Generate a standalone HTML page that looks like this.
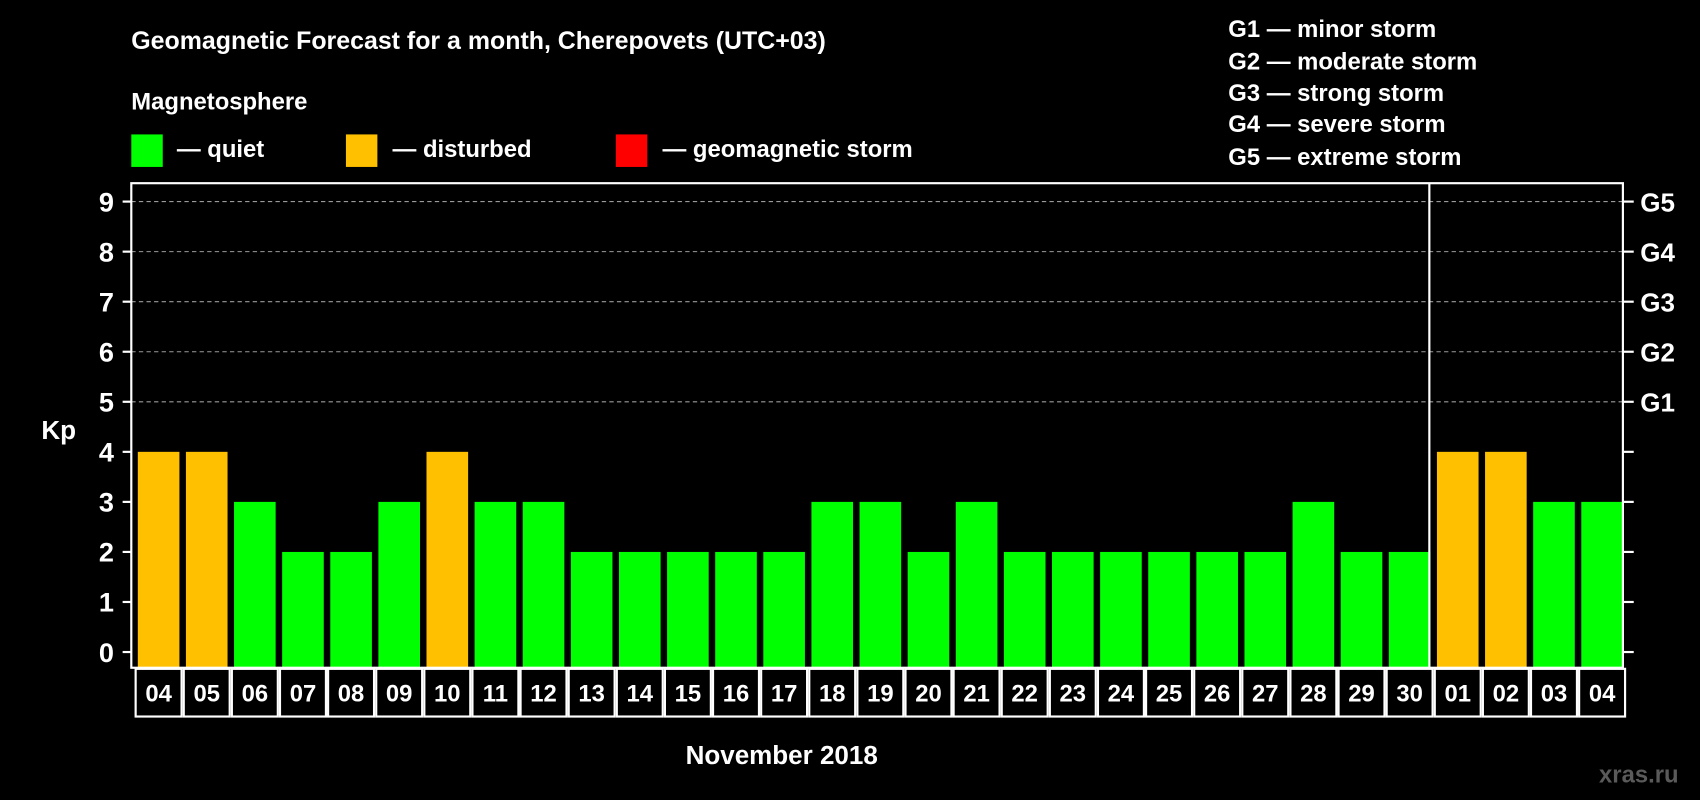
<!DOCTYPE html>
<html><head><meta charset="utf-8"><style>
html,body{margin:0;padding:0;background:#000;}
svg{display:block;}
text{font-family:"Liberation Sans",Arial,sans-serif;font-weight:bold;fill:#fff;}
</style></head><body>
<svg id="chart" width="1700" height="800" viewBox="0 0 1568 738" xmlns="http://www.w3.org/2000/svg">
<rect x="0" y="0" width="1568" height="738" fill="#000"/>
<text x="121" y="45" font-size="23">Geomagnetic Forecast for a month, Cherepovets (UTC+03)</text>
<text x="121" y="101" font-size="22">Magnetosphere</text>
<g><rect x="121" y="124" width="29" height="30" fill="#00ff00"/><text x="163" y="145" font-size="22">— quiet</text></g>
<g><rect x="319" y="124" width="29" height="30" fill="#ffc000"/><text x="362" y="145" font-size="22">— disturbed</text></g>
<g><rect x="568" y="124" width="29" height="30" fill="#ff0000"/><text x="611" y="145" font-size="22">— geomagnetic storm</text></g>
<g font-size="22">
<text x="1133" y="34">G1 — minor storm</text>
<text x="1133" y="64">G2 — moderate storm</text>
<text x="1133" y="93">G3 — strong storm</text>
<text x="1133" y="122">G4 — severe storm</text>
<text x="1133" y="152">G5 — extreme storm</text>
</g>
<text x="38" y="405" font-size="24">Kp</text>
<text x="721" y="705" font-size="24" text-anchor="middle">November 2018</text>
<text x="1475" y="722" font-size="22" style="fill:#5a5a5a">xras.ru</text>
<g id="plot"></g>
</svg>
<script>
const days = ["04","05","06","07","08","09","10","11","12","13","14","15","16","17","18","19","20","21","22","23","24","25","26","27","28","29","30","01","02","03","04"];
const kp = [4,4,3,2,2,3,4,3,3,2,2,2,2,2,3,3,2,3,2,2,2,2,2,2,3,2,2,4,4,3,3];
const yTicks = [0,1,2,3,4,5,6,7,8,9];
const gLabels = ["G1","G2","G3","G4","G5"];
const gValues = [5,6,7,8,9];
const monthBreak = 27;

const NS = "http://www.w3.org/2000/svg";
const L = 121, R = 1497, T = 169, B = 616;
const colW = (R - L) / days.length;
const y = v => 601.5 - v * 46.17;
const x = i => L + i * colW;
const plot = document.getElementById('plot');
function mk(tag, attrs) {
  const e = document.createElementNS(NS, tag);
  for (const k in attrs) e.setAttribute(k, attrs[k]);
  plot.appendChild(e);
  return e;
}
// grid
gValues.forEach(v => {
  const g = mk('line', {x1: L, x2: R, y1: y(v), y2: y(v), stroke: '#9a9a9a', 'stroke-width': 1, 'stroke-dasharray': '4,3'});
  
  
});
// bars
kp.forEach((v, i) => {
  const c = v >= 5 ? '#ff0000' : (v >= 4 ? '#ffc000' : '#00ff00');
  const b = mk('rect', {x: x(i) + 6, y: y(v), width: colW - 6, height: B - y(v), fill: c});
  
  
});
// frame
const fr = mk('rect', {x: L, y: T, width: R - L, height: B - T, fill: 'none', stroke: '#fff', 'stroke-width': 2});


const dv = mk('line', {x1: x(monthBreak) - 1, x2: x(monthBreak) - 1, y1: T, y2: B, stroke: '#fff', 'stroke-width': 2});


// y ticks
yTicks.forEach(v => {
  mk('line', {x1: L - 8, x2: L, y1: y(v), y2: y(v), stroke: '#fff', 'stroke-width': 2});
  mk('line', {x1: R, x2: R + 10, y1: y(v), y2: y(v), stroke: '#fff', 'stroke-width': 2});
  const t = mk('text', {x: 105, y: y(v) + 9, 'font-size': 25, 'text-anchor': 'end'});
  t.textContent = v;
  
  
});
gLabels.forEach((g, i) => {
  const t = mk('text', {x: 1513, y: y(gValues[i]) + 9, 'font-size': 24});
  t.textContent = g;
  
  
});
// x labels
days.forEach((d, i) => {
  const r = mk('rect', {x: x(i) + 4, y: B + 1, width: colW - 2, height: 44, fill: '#000', stroke: '#fff', 'stroke-width': 2});
  
  
  const t = mk('text', {x: x(i) + 3 + colW / 2, y: B + 31, 'font-size': 22, 'text-anchor': 'middle'});
  t.textContent = d;
  
  
});
</script>
</body></html>
